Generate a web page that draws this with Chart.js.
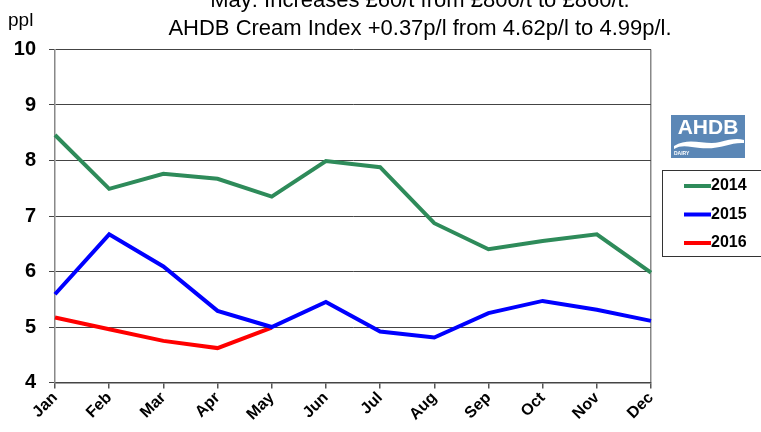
<!DOCTYPE html>
<html>
<head>
<meta charset="utf-8">
<script src="https://cdn.jsdelivr.net/npm/chart.js@4.4.1/dist/chart.umd.min.js"></script>
<style>
  html, body { margin: 0; padding: 0; background: #fff; }
  #wrap { width: 761px; height: 432px; position: relative; }
</style>
</head>
<body>
<div id="wrap"><canvas id="chart" width="761" height="432"></canvas></div>
<script>
const months = ['Jan', 'Feb', 'Mar', 'Apr', 'May', 'Jun', 'Jul', 'Aug', 'Sep', 'Oct', 'Nov', 'Dec'];
const values2014 = [8.46, 7.49, 7.76, 7.67, 7.35, 7.99, 7.88, 6.87, 6.40, 6.55, 6.67, 5.98];
const values2015 = [5.59, 6.67, 6.09, 5.29, 5.00, 5.45, 4.92, 4.81, 5.25, 5.47, 5.31, 5.11];
const values2016 = [5.17, 4.96, 4.75, 4.62, 4.99];
const titleLines = ['May: Increases £60/t from £800/t to £860/t.', 'AHDB Cream Index +0.37p/l from 4.62p/l to 4.99p/l.'];
const yUnit = 'ppl';

const FONT = '"Liberation Sans", Arial, sans-serif';

// titles, unit label, logo and legend box drawn on top of the chart
const decorations = {
  id: 'decorations',
  afterDraw(chart) {
    const ctx = chart.ctx;
    ctx.save();
    ctx.fillStyle = '#000';
    ctx.textAlign = 'center';
    ctx.textBaseline = 'alphabetic';
    ctx.font = '22px ' + FONT;
    ctx.fillText(titleLines[0], 420, 7);
    ctx.fillText(titleLines[1], 420, 35);

    ctx.textAlign = 'left';
    ctx.font = '19px ' + FONT;
    ctx.fillText(yUnit, 8, 26);

    // AHDB logo
    ctx.textBaseline = 'middle';
    ctx.fillStyle = '#5b87b6';
    ctx.fillRect(671, 115, 74, 43);
    ctx.fillStyle = '#fff';
    ctx.font = 'bold 21px ' + FONT;
    ctx.textAlign = 'center';
    ctx.fillText('AHDB', 708, 128);
    ctx.beginPath();
    ctx.moveTo(674, 146);
    ctx.bezierCurveTo(690, 136, 705, 146, 720, 142);
    ctx.bezierCurveTo(730, 139, 738, 138, 744, 140);
    ctx.lineTo(744, 143);
    ctx.bezierCurveTo(730, 142, 720, 150, 700, 148);
    ctx.bezierCurveTo(690, 147, 682, 144, 674, 149);
    ctx.closePath();
    ctx.fill();
    ctx.font = 'bold 5px ' + FONT;
    ctx.textAlign = 'left';
    ctx.fillText('DAIRY', 674, 154);

    // legend
    ctx.strokeStyle = '#333';
    ctx.lineWidth = 1;
    ctx.strokeRect(662.5, 170.5, 110, 86);
    chart.data.datasets.forEach((ds, i) => {
      const y = 186 + i * 28.5;
      ctx.strokeStyle = ds.borderColor;
      ctx.lineWidth = 4;
      ctx.beginPath();
      ctx.moveTo(684, y);
      ctx.lineTo(711, y);
      ctx.stroke();
      ctx.fillStyle = '#000';
      ctx.font = 'bold 16px ' + FONT;
      ctx.textAlign = 'left';
      ctx.fillText(ds.label, 711, y);
    });
    ctx.restore();
  }
};

new Chart(document.getElementById('chart'), {
  type: 'line',
  data: {
    labels: months,
    datasets: [
      { label: '2014', data: values2014, borderColor: '#2e8b5a', borderWidth: 4, pointRadius: 0, tension: 0 },
      { label: '2015', data: values2015, borderColor: '#0000ff', borderWidth: 4, pointRadius: 0, tension: 0 },
      { label: '2016', data: values2016, borderColor: '#ff0000', borderWidth: 4, pointRadius: 0, tension: 0 }
    ]
  },
  options: {
    responsive: false,
    animation: false,
    layout: { padding: { top: 49.5, right: 110, left: 0, bottom: 0 } },
    plugins: {
      legend: { display: false },
      tooltip: { enabled: false }
    },
    scales: {
      x: {
        offset: false,
        afterFit(scale) { scale.height = 49.5; },
        border: { color: '#444', width: 1.5 },
        grid: {
          color: c => c.index === months.length - 1 ? '#888' : 'transparent',
          tickColor: '#555',
          tickLength: 6,
          lineWidth: 1.5
        },
        ticks: {
          autoSkip: false,
          maxRotation: 45,
          minRotation: 45,
          color: '#000',
          padding: 0,
          font: { family: FONT, size: 16, weight: 'bold' }
        }
      },
      y: {
        min: 4,
        max: 10,
        afterFit(scale) { scale.width = 55; },
        border: { color: '#888', width: 1.5 },
        grid: { color: '#444', lineWidth: 1, tickLength: 6 },
        ticks: {
          stepSize: 1,
          color: '#000',
          padding: 13,
          font: { family: FONT, size: 20, weight: 'bold' }
        }
      }
    }
  },
  plugins: [decorations]
});
</script>
</body>
</html>
